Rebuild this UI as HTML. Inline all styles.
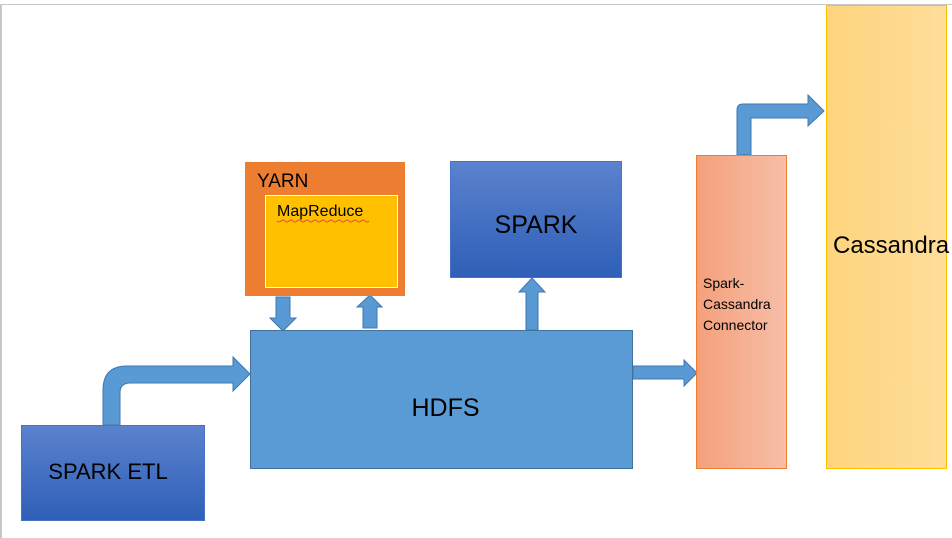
<!DOCTYPE html>
<html><head><style>
body{margin:0;width:952px;height:538px;background:#fff;overflow:hidden;position:relative;font-family:"Liberation Sans","DejaVu Sans",sans-serif}
.b{position:absolute;box-sizing:border-box}
</style></head><body>
<div class="b" style="left:0;top:4px;width:952px;height:534px;border-left:2px solid #c8c8c8;border-top:1px solid #c8c8c8"></div>
<svg class="b" style="left:0;top:0" width="952" height="538">
<defs>
<linearGradient id="bl" x1="0" y1="0" x2="0" y2="1"><stop offset="0" stop-color="#5b82ce"/><stop offset="1" stop-color="#2f5fb8"/></linearGradient>
<linearGradient id="or" x1="0" y1="0" x2="1" y2="0"><stop offset="0" stop-color="#f4a07b"/><stop offset="1" stop-color="#f7bea8"/></linearGradient>
<linearGradient id="ye" x1="0" y1="0" x2="1" y2="0"><stop offset="0" stop-color="#fed57e"/><stop offset="1" stop-color="#ffdd9a"/></linearGradient>
</defs>
<g fill="#5a9ad4" stroke="#3f77b0" stroke-width="1">
<path d="M103,425 L103,390 Q103,366 127,366 L233,366 L233,357 L250,374 L233,391 L233,383 L130,383 Q120,383 120,393 L120,425 Z"/>
<path d="M276,297 L290,297 L290,318 L296,318 L283,331 L270,318 L276,318 Z"/>
<path d="M363,328 L377,328 L377,307 L382,307 L370,295 L357,307 L363,307 Z"/>
<path d="M526,330 L538,330 L538,292 L545,292 L532,278 L519,292 L526,292 Z"/>
<path d="M633,366 L684,366 L684,360 L697,373 L684,386 L684,379 L633,379 Z"/>
<path d="M737,155 L737,110 Q737,104 743,104 L808,104 L808,95 L824,111 L808,126 L808,118 L751,118 L751,155 Z"/>
</g>
<rect x="21.5" y="425.5" width="183" height="95" fill="url(#bl)" stroke="#4472c4"/>
<rect x="250.5" y="330.5" width="382" height="138" fill="#5b9bd5" stroke="#41719c"/>
<rect x="245" y="162" width="160" height="134" fill="#ed7d31"/>
<rect x="265.5" y="195.5" width="132" height="92" fill="#ffc000" stroke="#fff"/>
<rect x="450.5" y="161.5" width="171" height="116" fill="url(#bl)" stroke="#4472c4"/>
<rect x="696.5" y="155.5" width="90" height="313" fill="url(#or)" stroke="#ed7d31"/>
<rect x="826.5" y="5.5" width="120" height="463" fill="url(#ye)" stroke="#ffc000"/>
<path d="M277,221 q2,2 4,0 t4,0 t4,0 t4,0 t4,0 t4,0 t4,0 t4,0 t4,0 t4,0 t4,0 t4,0 t4,0 t4,0 t4,0 t4,0 t4,0 t4,0 t4,0 t4,0 t4,0 t4,0 t4,0" fill="none" stroke="#e03030" stroke-width="0.8"/>
</svg>
<div class="b" style="left:257px;top:171px;font-size:19px">YARN</div>
<div class="b" style="left:277px;top:203px;font-size:16px">MapReduce</div>
<div class="b" style="left:450px;top:211px;width:172px;text-align:center;font-size:25px">SPARK</div>
<div class="b" style="left:254px;top:394px;width:383px;text-align:center;font-size:25px">HDFS</div>
<div class="b" style="left:21px;top:459px;width:174px;text-align:center;font-size:22px">SPARK ETL</div>
<div class="b" style="left:703px;top:273px;font-size:14px;line-height:21px">Spark-<br>Cassandra<br>Connector</div>
<div class="b" style="left:833px;top:232px;font-size:24px">Cassandra</div>
</body></html>
